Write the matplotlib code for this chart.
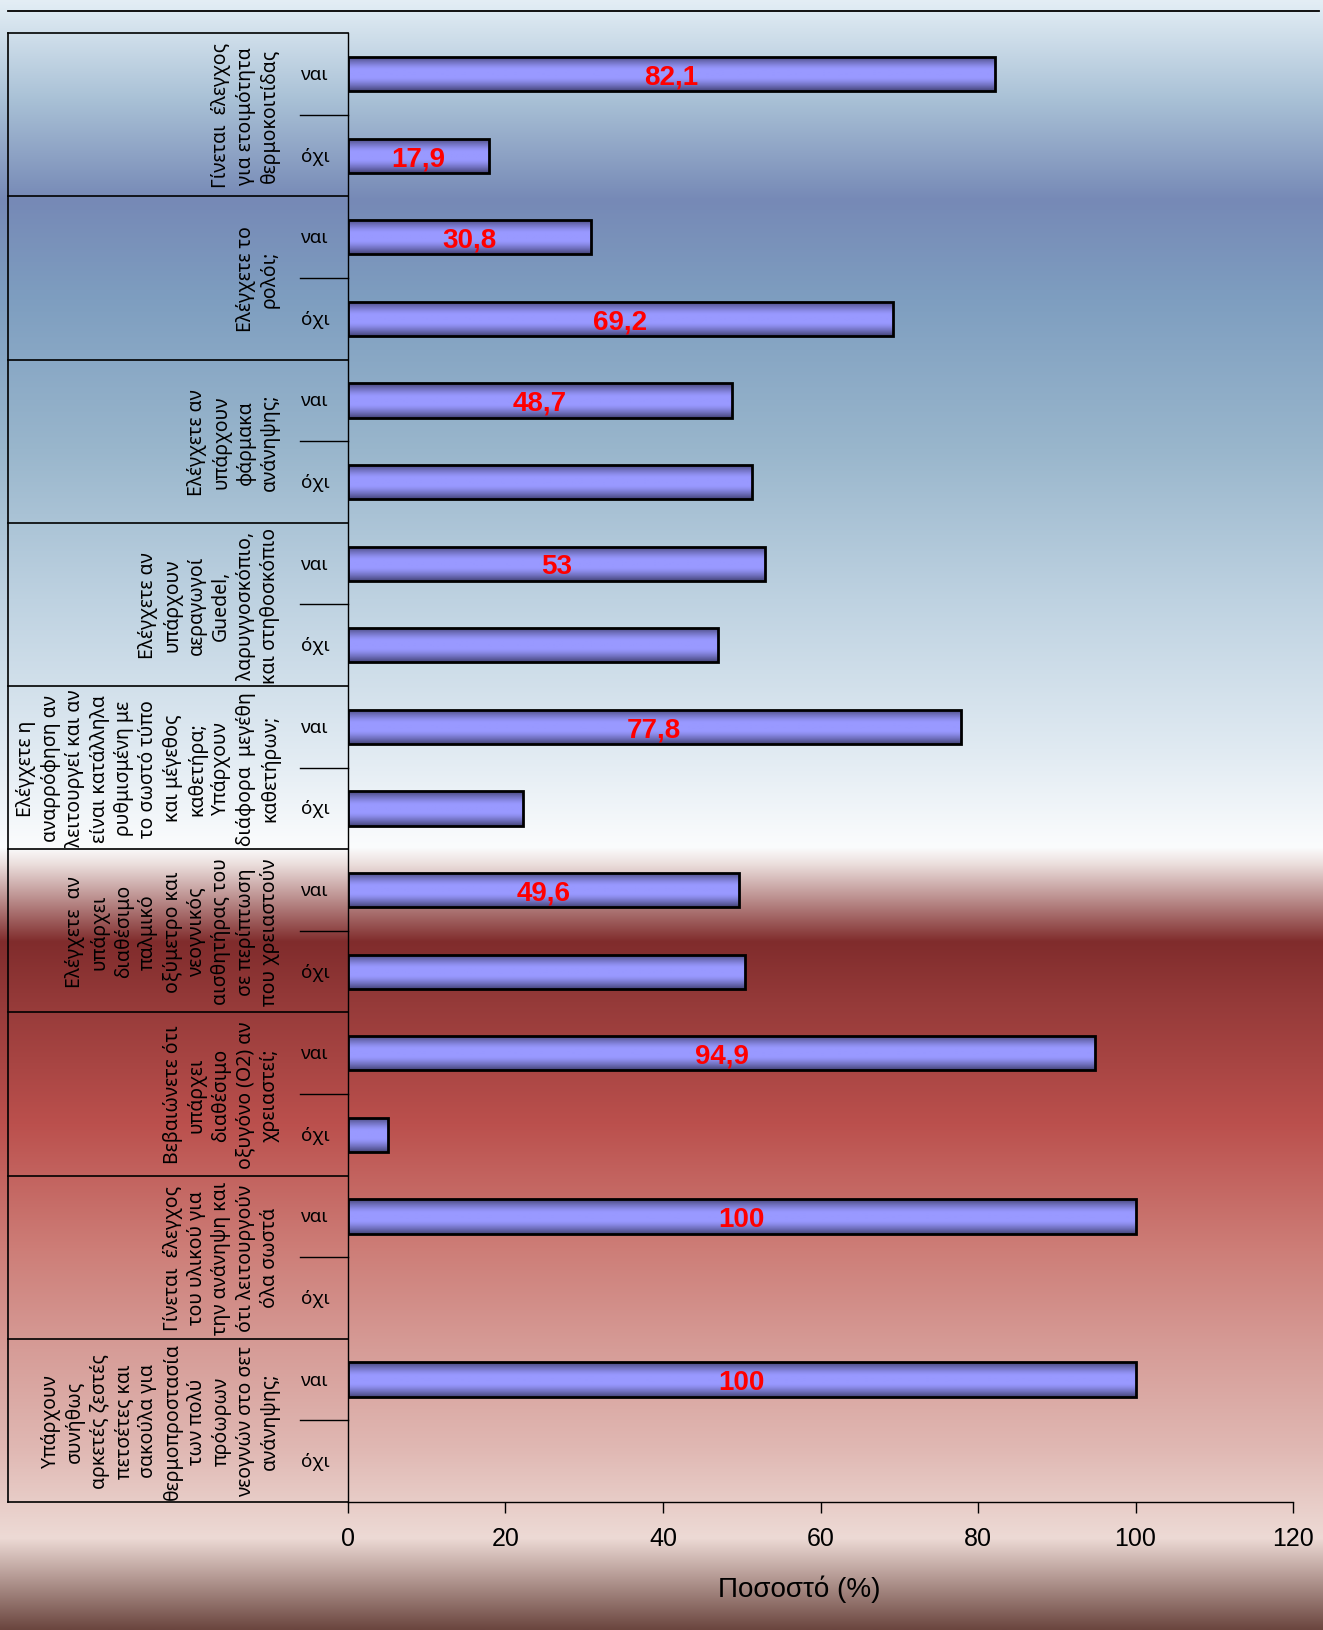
import numpy as np
import matplotlib
matplotlib.use('Agg')
import matplotlib.pyplot as plt
from matplotlib.colors import LinearSegmentedColormap, to_rgb
from matplotlib.lines import Line2D

# ---------------- data ----------------
questions = [
    "Γίνεται  έλεγχος\nγια ετοιμότητα\nθερμοκοιτίδας",
    "Ελέγχετε το\nρολόι;",
    "Ελέγχετε αν\nυπάρχουν\nφάρμακα\nανάνηψης;",
    "Ελέγχετε αν\nυπάρχουν\nαεραγωγοί\nGuedel,\nλαρυγγοσκόπιο,\nκαι στηθοσκόπιο",
    "Ελέγχετε η\nαναρρόφηση αν\nλειτουργεί και αν\nείναι κατάλληλα\nρυθμισμένη με\nτο σωστό τύπο\nκαι μέγεθος\nκαθετήρα;\nΥπάρχουν\nδιάφορα  μεγέθη\nκαθετήρων;",
    "Ελέγχετε  αν\nυπάρχει\nδιαθέσιμο\nπαλμικό\nοξύμετρο και\nνεογνικός\nαισθητήρας του\nσε περίπτωση\nπου χρειαστούν",
    "Βεβαιώνετε ότι\nυπάρχει\nδιαθέσιμο\nοξυγόνο (Ο2) αν\nχρειαστεί;",
    "Γίνεται  έλεγχος\nτου υλικού για\nτην ανάνηψη και\nότι λειτουργούν\nόλα σωστά",
    "Υπάρχουν\nσυνήθως\nαρκετές ζεστές\nπετσέτες και\nσακούλα για\nθερμοπροστασία\nτων πολύ\nπρόωρων\nνεογνών στο σετ\nανάνηψης;",
]
answers = ["ναι", "όχι"]
yes_values = [82.1, 30.8, 48.7, 53.0, 77.8, 49.6, 94.9, 100.0, 100.0]
no_values = [17.9, 69.2, 51.3, 47.0, 22.2, 50.4, 5.1, 0.0, 0.0]
yes_labels = ["82,1", "30,8", "48,7", "53", "77,8", "49,6", "94,9", "100", "100"]
no_labels = ["17,9", "69,2", "", "", "", "", "", "", ""]
xticks = [0, 20, 40, 60, 80, 100, 120]
xlabel = "Ποσοστό (%)"

# ---------------- layout ----------------
W, H = 1323, 1631
fig = plt.figure(figsize=(W / 100, H / 100), dpi=100)

# background gradient
stops = [
    (0.000, '#e4eef5'), (0.008, '#dde9f2'), (0.061, '#a9c1d6'),
    (0.123, '#7689b6'), (0.184, '#7e9ec0'), (0.276, '#99b6cc'),
    (0.368, '#bed2e1'), (0.460, '#e0eaf2'), (0.520, '#fbfcfd'),
    (0.530, '#ece0de'), (0.578, '#802c2c'), (0.615, '#953a39'),
    (0.690, '#bb504d'), (0.766, '#cd7d77'), (0.828, '#d69c97'),
    (0.889, '#e0b8b3'), (0.944, '#eddad5'), (1.000, '#6b463f'),
]
bg_cmap = LinearSegmentedColormap.from_list('bg', stops, N=1024)
bg = fig.add_axes([0, 0, 1, 1], zorder=-10)
bg.axis('off')
bg.imshow(np.linspace(0, 1, 1024).reshape(-1, 1), aspect='auto', cmap=bg_cmap,
          extent=[0, 1, 0, 1], origin='upper', interpolation='bilinear')

# top line
fig.add_artist(Line2D([8 / W, 1319 / W], [1 - 11.5 / H, 1 - 11.5 / H],
                      color='black', lw=1.3, transform=fig.transFigure))

ax_left, ax_right = 348 / W, 1293 / W
ax_top, ax_bottom = 1 - 34.3 / H, 1 - 1503 / H
ax = fig.add_axes([ax_left, ax_bottom, ax_right - ax_left, ax_top - ax_bottom])
ax.patch.set_alpha(0)

n_rows = 2 * len(questions)
pos = np.arange(n_rows)
values = []
labels = []
for yv, nv, yl, nl in zip(yes_values, no_values, yes_labels, no_labels):
    values += [yv, nv]
    labels += [yl, nl]

bars = ax.barh(pos, values, height=0.42, facecolor='none', edgecolor='black',
               linewidth=2.0, zorder=4)

# bar gradient (dark edges, light centre)
light = np.array(to_rgb('#9999ff'))
dark = np.array(to_rgb('#45457a'))
t = np.linspace(0, 1, 64)
d = np.abs(2 * t - 1)
f = np.clip((d - 0.25) / 0.75, 0, 1) ** 1.3
grad = (light[None, :] * (1 - f[:, None]) + dark[None, :] * f[:, None]).reshape(-1, 1, 3)
for b in bars:
    if b.get_width() <= 0:
        b.set_linewidth(0)
        continue
    x0, y0, w, h = b.get_x(), b.get_y(), b.get_width(), b.get_height()
    im = ax.imshow(grad, aspect='auto', extent=(x0, x0 + w, y0 + h, y0),
                   origin='upper', zorder=3, interpolation='bilinear')
    im.set_clip_path(b)

for p, v, lab in zip(pos, values, labels):
    if lab:
        ax.text(v / 2, p + 0.03, lab, ha='center', va='center', color='#ff0000',
                fontweight='bold', fontsize=20, family='Liberation Sans', zorder=6)

ax.set_xlim(0, 120)
ax.set_ylim(n_rows - 0.5, -0.5)
ax.set_aspect('auto')
ax.set_yticks([])
ax.set_xticks(xticks)
ax.set_xticklabels([str(v) for v in xticks], family='Liberation Sans', fontsize=18)
ax.tick_params(axis='x', length=8, width=1, direction='out', pad=9, color='black')
for s in ['top', 'right']:
    ax.spines[s].set_visible(False)
ax.spines['left'].set_linewidth(1.0)
ax.spines['bottom'].set_linewidth(1.0)
ax.set_xlabel(xlabel, family='Liberation Sans', fontsize=20, labelpad=18)
ax.xaxis.label.set_x(0.477)

# label panel
lab_ax = fig.add_axes([8 / W, ax_bottom, (348 - 8) / W, ax_top - ax_bottom])
lab_ax.patch.set_alpha(0)
lab_ax.axis('off')
lab_ax.set_xlim(0, 1)
lab_ax.set_ylim(n_rows - 0.5, -0.5)
lab_ax.plot([0, 0], [-0.5, n_rows - 0.5], color='black', lw=1.2, clip_on=False)
for g in range(len(questions) + 1):
    lab_ax.plot([0, 1], [2 * g - 0.5, 2 * g - 0.5], color='black', lw=1.2, clip_on=False)
for g, q in enumerate(questions):
    lab_ax.plot([0.859, 1], [2 * g + 0.5, 2 * g + 0.5], color='black', lw=1.0, clip_on=False)
    lab_ax.text(0.80, 2 * g + 0.5, q, rotation=90, ha='right', va='center',
                multialignment='center', fontsize=14, family='Noto Sans',
                linespacing=1.29)
    for k, a in enumerate(answers):
        lab_ax.text(0.903, 2 * g + k, a, ha='center', va='center',
                    fontsize=13.5, family='Noto Sans')

fig.savefig('out.png', dpi=100)
